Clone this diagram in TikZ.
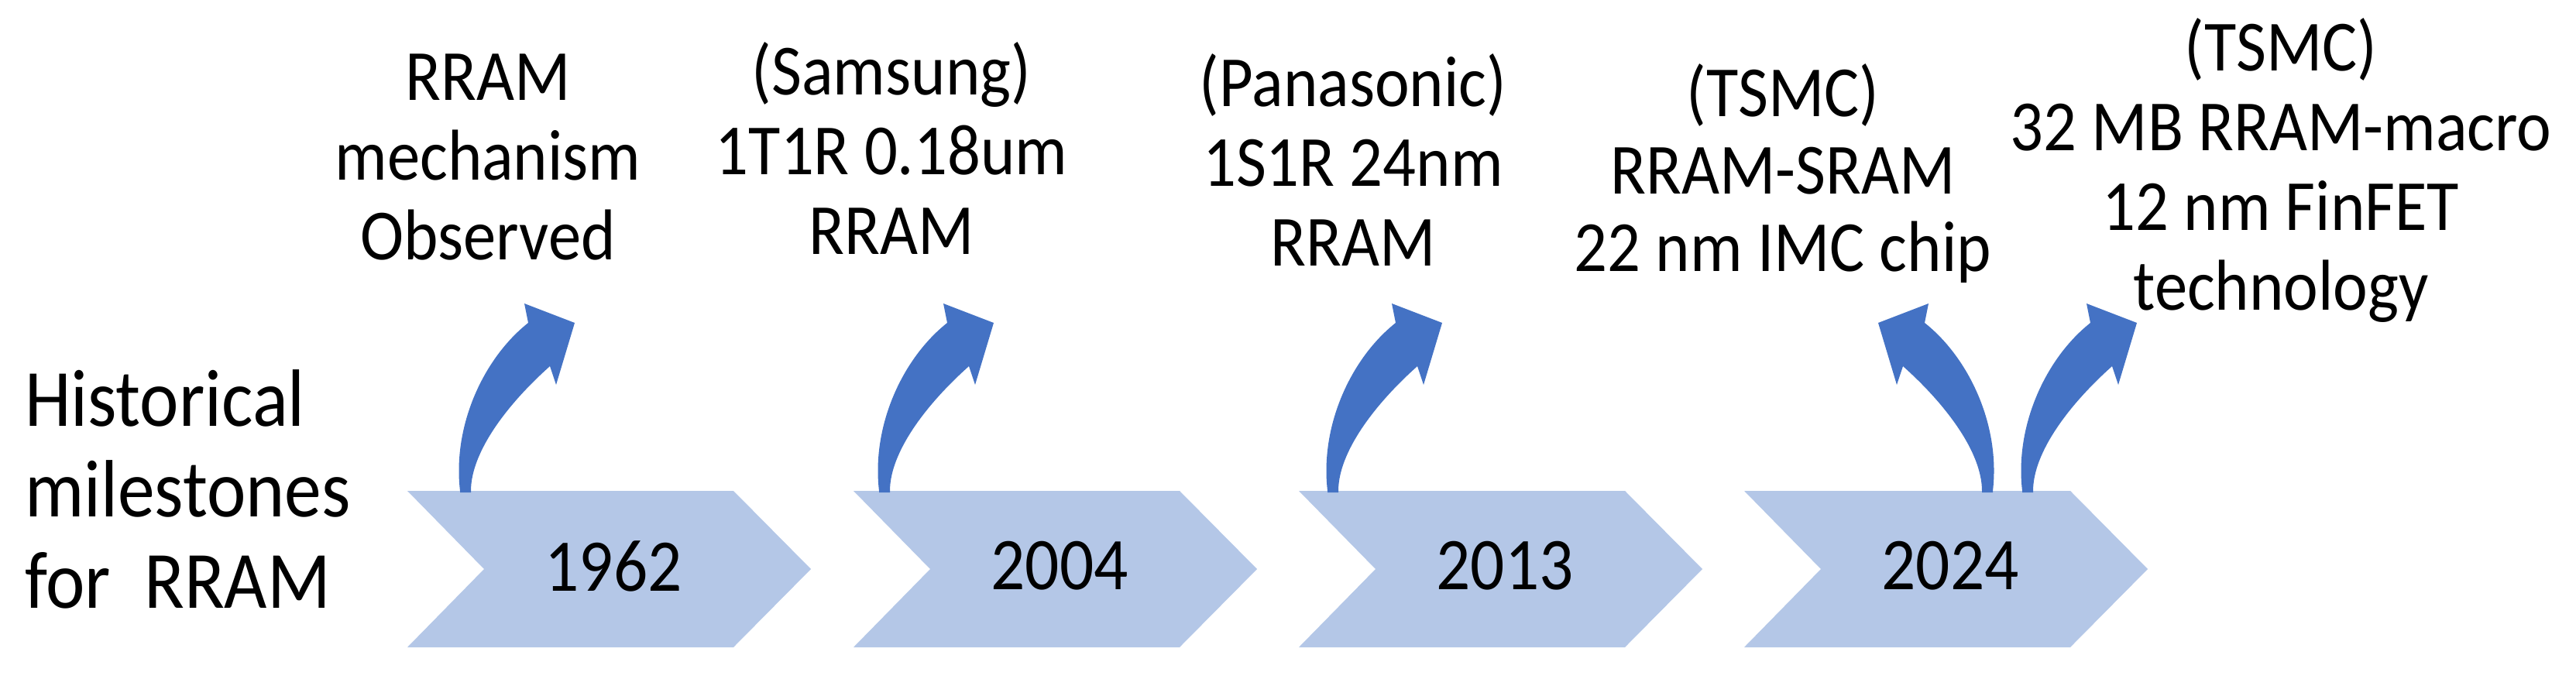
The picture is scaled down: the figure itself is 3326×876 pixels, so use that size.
\documentclass[tikz,border=0pt]{standalone}
\usepackage{fontspec}
\setmainfont{Carlito}[FakeStretch=0.91]
\definecolor{chevfill}{HTML}{B4C7E7}
\definecolor{arrowfill}{HTML}{4472C4}
\begin{document}
\begin{tikzpicture}[x=1pt,y=-1pt,
  chevron/.style={fill=chevfill},
  curvearrow/.pic={\fill[arrowfill] (-6,2) -- (-6,0) .. controls (-16,-85) and (25,-172) .. (82,-217)
      -- (77,-242) -- (142,-217) -- (118,-137) -- (110,-161)
      .. controls (55,-112) and (8,-50) .. (8,0) -- (8,2) -- cycle;},
  curvearrowleft/.pic={\fill[arrowfill] (6,2) -- (6,0) .. controls (16,-85) and (-25,-172) .. (-82,-217)
      -- (-77,-242) -- (-142,-217) -- (-118,-137) -- (-110,-161)
      .. controls (-55,-112) and (-8,-50) .. (-8,0) -- (-8,2) -- cycle;},
  blocktext/.style={font=\fontsize{93}{103}\selectfont, align=center, anchor=base, inner sep=0pt},
  yeartext/.style={font=\fontsize{96}{100}\selectfont, inner sep=0pt},
  titletext/.style={font=\fontsize{105}{117.5}\selectfont, align=left, anchor=base west, inner sep=0pt}]
\useasboundingbox (0,0) rectangle (3326,876);
\fill[white] (0,0) rectangle (3326,876);
% chevrons
\foreach \L in {526,1102,1677,2252}{
  \fill[chevron] (\L,634) -- ({\L+421},634) -- ({\L+521},735) -- ({\L+421},836)
     -- (\L,836) -- ({\L+99},735) -- cycle;
}
% curved arrows
\pic at (600,634) {curvearrow};
\pic at (1141,634) {curvearrow};
\pic at (1720,634) {curvearrow};
\pic at (2567,634) {curvearrowleft};
\pic at (2617,634) {curvearrow};
% years
\node[yeartext] (y1962) at (792,731) {1962};
\node[yeartext] (y2004) at (1368,731) {2004};
\node[yeartext] (y2013) at (1943,731) {2013};
\node[yeartext] (y2024) at (2518,731) {2024};
% title (anchor at baseline of last line)
\node[titletext] (title) at (32,785) {Historical\\milestones\\for\ \ RRAM};
% milestone texts (anchor at baseline of last line)
\node[blocktext] (m1962) at (630,335) {RRAM\\mechanism\\Observed};
\node[blocktext] (m2004) at (1151,328) {(Samsung)\\1T1R 0.18um\\RRAM};
\node[blocktext] (m2013) at (1747,343) {(Panasonic)\\1S1R 24nm\\RRAM};
\node[blocktext, font=\fontsize{93}{100}\selectfont] (m2024a) at (2302,350) {(TSMC)\\RRAM-SRAM\\22 nm IMC chip};
\node[blocktext] (m2024b) at (2945,400) {(TSMC)\\32 MB RRAM-macro\\12 nm FinFET\\technology};
\end{tikzpicture}
\end{document}
